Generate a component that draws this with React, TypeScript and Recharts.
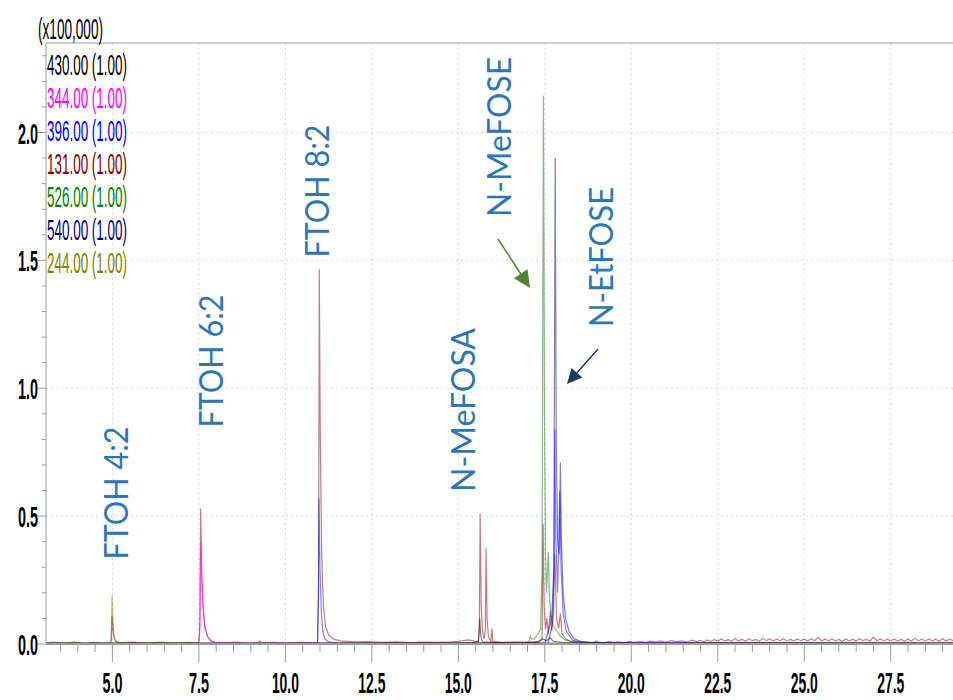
import React from 'react';
import { LineChart, Line, XAxis, YAxis, CartesianGrid, ReferenceLine } from 'recharts';

// retention time (min) / intensity (x100,000) pairs
const ion430 = [
  [3.08, 0.003], [6.0, 0.004], [9.0, 0.003], [12.0, 0.004], [15.4, 0.004], [15.58, 0.01], [15.61, 0.06],
  [15.62, 0.1], [15.65, 0.03], [15.7, 0.008], [16.5, 0.004], [17.3, 0.006], [17.45, 0.02], [17.55, 0.012],
  [17.65, 0.025], [17.75, 0.01], [18.0, 0.006], [20.0, 0.004], [24.0, 0.004], [29.3, 0.004],
];
const ion344 = [
  [3.08, 0.002], [7.5, 0.003], [7.53, 0.06], [7.55, 0.4], [7.58, 0.26], [7.62, 0.14], [7.67, 0.065],
  [7.75, 0.028], [7.85, 0.011], [8.0, 0.004], [12.0, 0.003], [17.4, 0.003], [20.0, 0.003], [29.3, 0.003],
];
const ion396 = [
  [3.08, 0.002], [10.93, 0.003], [10.95, 0.15], [10.97, 0.57], [11.0, 0.3], [11.04, 0.12], [11.08, 0.05],
  [11.14, 0.02], [11.25, 0.008], [11.5, 0.004], [17.6, 0.004], [17.72, 0.08], [17.77, 0.3], [17.79, 0.84],
  [17.82, 0.4], [17.87, 0.2], [17.93, 0.6], [17.97, 0.3], [18.03, 0.12], [18.12, 0.05], [18.3, 0.015],
  [18.6, 0.005], [29.3, 0.003],
];
const ion131 = [
  [3.08, 0.004], [3.3, 0.007], [3.6, 0.004], [3.9, 0.007], [4.2, 0.003], [4.5, 0.006], [4.7, 0.004],
  [4.95, 0.005], [4.97, 0.02], [4.99, 0.11], [5.02, 0.05], [5.06, 0.02], [5.12, 0.008], [5.25, 0.005],
  [5.6, 0.007], [6.0, 0.004], [6.4, 0.007], [6.8, 0.004], [7.2, 0.006], [7.5, 0.005], [7.53, 0.1],
  [7.55, 0.53], [7.58, 0.3], [7.62, 0.15], [7.67, 0.07], [7.75, 0.03], [7.85, 0.012], [8.0, 0.006],
  [8.3, 0.005], [8.6, 0.007], [8.9, 0.004], [9.2, 0.005], [9.25, 0.012], [9.3, 0.005], [9.7, 0.006],
  [10.0, 0.004], [10.4, 0.006], [10.93, 0.005], [10.96, 0.2], [10.98, 1.465], [11.01, 0.8], [11.05, 0.35],
  [11.1, 0.15], [11.16, 0.07], [11.25, 0.035], [11.4, 0.018], [11.6, 0.012], [11.8, 0.01], [12.0, 0.008],
  [12.4, 0.009], [12.8, 0.006], [13.2, 0.008], [13.6, 0.005], [14.0, 0.007], [14.4, 0.006], [14.8, 0.008],
  [15.0, 0.01], [15.15, 0.013], [15.3, 0.016], [15.45, 0.011], [15.58, 0.01], [15.61, 0.1], [15.63, 0.51],
  [15.66, 0.15], [15.7, 0.05], [15.74, 0.02], [15.78, 0.05], [15.8, 0.375], [15.83, 0.1], [15.87, 0.03],
  [15.94, 0.01], [15.97, 0.06], [16.0, 0.01], [16.2, 0.006], [16.6, 0.008], [17.0, 0.006], [17.3, 0.01],
  [17.42, 0.02], [17.45, 0.47], [17.48, 0.15], [17.52, 0.06], [17.56, 0.1], [17.6, 0.04], [17.66, 0.13],
  [17.7, 0.05], [17.75, 0.12], [17.79, 0.35], [17.84, 0.1], [17.9, 0.06], [17.95, 0.12], [18.0, 0.04],
  [18.1, 0.02], [18.25, 0.01], [18.5, 0.008], [18.8, 0.005], [19.0, 0.007], [19.2, 0.005], [19.35, 0.009],
  [19.5, 0.006], [19.65, 0.008], [19.8, 0.005], [19.95, 0.01], [20.1, 0.006], [20.25, 0.009], [20.4, 0.006],
  [20.55, 0.011], [20.7, 0.007], [20.85, 0.012], [21.0, 0.007], [21.15, 0.013], [21.3, 0.008], [21.45, 0.012],
  [21.6, 0.008], [21.75, 0.015], [21.9, 0.009], [22.0, 0.014], [22.1, 0.009], [22.2, 0.016], [22.3, 0.01],
  [22.4, 0.018], [22.5, 0.011], [22.6, 0.02], [22.7, 0.012], [22.8, 0.017], [22.9, 0.011], [23.0, 0.021],
  [23.1, 0.012], [23.2, 0.019], [23.3, 0.011], [23.4, 0.02], [23.5, 0.013], [23.6, 0.018], [23.7, 0.011],
  [23.8, 0.022], [23.9, 0.013], [24.0, 0.02], [24.1, 0.012], [24.2, 0.019], [24.3, 0.013], [24.4, 0.021],
  [24.5, 0.012], [24.6, 0.018], [24.7, 0.012], [24.8, 0.02], [24.9, 0.013], [25.0, 0.019], [25.1, 0.012],
  [25.2, 0.021], [25.3, 0.013], [25.4, 0.026], [25.5, 0.013], [25.6, 0.019], [25.7, 0.012], [25.8, 0.02],
  [25.9, 0.012], [26.0, 0.018], [26.1, 0.011], [26.2, 0.02], [26.3, 0.012], [26.4, 0.019], [26.5, 0.012],
  [26.6, 0.021], [26.7, 0.013], [26.8, 0.018], [26.9, 0.012], [27.0, 0.027], [27.1, 0.013], [27.2, 0.02],
  [27.3, 0.012], [27.4, 0.019], [27.5, 0.012], [27.6, 0.02], [27.7, 0.012], [27.8, 0.018], [27.9, 0.011],
  [28.0, 0.02], [28.1, 0.012], [28.2, 0.022], [28.3, 0.013], [28.4, 0.019], [28.5, 0.012], [28.6, 0.02],
  [28.7, 0.012], [28.8, 0.019], [28.9, 0.011], [29.0, 0.021], [29.1, 0.012], [29.2, 0.019], [29.3, 0.013],
];
const ion526 = [
  [3.08, 0.003], [10.0, 0.003], [16.9, 0.004], [17.05, 0.01], [17.08, 0.03], [17.12, 0.02], [17.2, 0.02],
  [17.3, 0.04], [17.38, 0.06], [17.42, 0.3], [17.46, 2.145], [17.49, 0.9], [17.52, 0.35], [17.55, 0.2],
  [17.6, 0.36], [17.63, 0.2], [17.68, 0.1], [17.75, 0.07], [17.85, 0.05], [17.95, 0.03], [18.1, 0.015],
  [18.3, 0.008], [18.95, 0.005], [19.0, 0.012], [19.05, 0.005], [29.3, 0.004],
];
const ion540 = [
  [3.08, 0.003], [12.0, 0.003], [17.5, 0.004], [17.6, 0.05], [17.7, 0.1], [17.76, 0.3], [17.8, 1.9],
  [17.83, 0.8], [17.87, 0.4], [17.92, 0.35], [17.95, 0.71], [17.98, 0.4], [18.03, 0.2], [18.1, 0.1],
  [18.2, 0.05], [18.35, 0.02], [18.6, 0.008], [19.0, 0.004], [29.3, 0.004],
];
const ion244 = [
  [3.08, 0.003], [4.9, 0.003], [4.96, 0.01], [4.99, 0.19], [5.01, 0.12], [5.04, 0.03], [5.08, 0.01],
  [5.2, 0.004], [29.3, 0.003],
];

const channelNames = ['430.00 (1.00)', '344.00 (1.00)', '396.00 (1.00)', '131.00 (1.00)', '526.00 (1.00)', '540.00 (1.00)', '244.00 (1.00)'];
const channelColors = ['#000000', '#ff00ff', '#0000ff', '#800000', '#008000', '#000080', '#808000'];

const xTicks = [
  3.5, 4.0, 4.5, 5.0, 5.5, 6.0, 6.5, 7.0, 7.5, 8.0, 8.5, 9.0, 9.5, 10.0, 10.5, 11.0, 11.5, 12.0, 12.5,
  13.0, 13.5, 14.0, 14.5, 15.0, 15.5, 16.0, 16.5, 17.0, 17.5, 18.0, 18.5, 19.0, 19.5, 20.0, 20.5, 21.0,
  21.5, 22.0, 22.5, 23.0, 23.5, 24.0, 24.5, 25.0, 25.5, 26.0, 26.5, 27.0, 27.5, 28.0, 28.5, 29.0,
];
const xMajor = [5.0, 7.5, 10.0, 12.5, 15.0, 17.5, 20.0, 22.5, 25.0, 27.5];
const yTicks = [
  0.0, 0.1, 0.2, 0.3, 0.4, 0.5, 0.6, 0.7, 0.8, 0.9, 1.0, 1.1, 1.2, 1.3, 1.4, 1.5, 1.6, 1.7, 1.8, 1.9,
  2.0, 2.1, 2.2, 2.3,
];
const yMajor = [0.0, 0.5, 1.0, 1.5, 2.0];

const peakLabels = ['FTOH 4:2', 'FTOH 6:2', 'FTOH 8:2', 'N-MeFOSA', 'N-MeFOSE', 'N-EtFOSE'];

const toPts = (rows: number[][]) => rows.map(([t, v]) => ({ t, v }));
const series = [
  { key: '131', data: toPts(ion131), color: channelColors[3] },
  { key: '526', data: toPts(ion526), color: channelColors[4] },
  { key: '540', data: toPts(ion540), color: channelColors[5] },
  { key: '396', data: toPts(ion396), color: channelColors[2] },
  { key: '244', data: toPts(ion244), color: channelColors[6] },
  { key: '430', data: toPts(ion430), color: channelColors[0] },
  { key: '344', data: toPts(ion344), color: channelColors[1] },
];

const W = 953;
const H = 700;
const AX_X = 46;
const AX_Y = 644;
const NARROW = '"Liberation Sans Narrow", "Liberation Sans", Arial, sans-serif';
const ANNOT = 'Lato, "Open Sans", sans-serif';
const AXIS_GRAY = '#9a9a9a';

const isMajor = (v: number, list: number[]) => list.some((m) => Math.abs(m - v) < 1e-6);

const YTick = (props: any) => {
  const { y, payload } = props;
  const v = payload.value;
  const major = isMajor(v, yMajor);
  return (
    <g>
      <line x1={AX_X - (major ? 8 : 4)} x2={AX_X} y1={y} y2={y} stroke={AXIS_GRAY} />
      {major && (
        <text x={38} y={y + 11} textAnchor="end" fontSize={30} fontWeight="bold" fontFamily={NARROW} fill="#000"
          textLength={20} lengthAdjust="spacingAndGlyphs">
          {v.toFixed(1)}
        </text>
      )}
    </g>
  );
};

const XTick = (props: any) => {
  const { x, payload } = props;
  const v = payload.value;
  const major = isMajor(v, xMajor);
  const label = v.toFixed(1);
  return (
    <g>
      <line x1={x} x2={x} y1={AX_Y} y2={AX_Y + (major ? 18 : 8)} stroke={AXIS_GRAY} />
      {major && (
        <text x={x} y={693} textAnchor="middle" fontSize={29} fontWeight="bold" fontFamily={NARROW} fill="#000"
          textLength={label.length > 3 ? 27 : 20} lengthAdjust="spacingAndGlyphs">
          {label}
        </text>
      )}
    </g>
  );
};

const Arrow = ({ x1, y1, x2, y2, color, head }: any) => {
  const dx = x2 - x1;
  const dy = y2 - y1;
  const len = Math.sqrt(dx * dx + dy * dy);
  const ux = dx / len;
  const uy = dy / len;
  const bx = x2 - ux * head;
  const by = y2 - uy * head;
  const hw = head * 0.48;
  const pts = `${x2},${y2} ${bx - uy * hw},${by + ux * hw} ${bx + uy * hw},${by - ux * hw}`;
  return (
    <g>
      <line x1={x1} y1={y1} x2={bx} y2={by} stroke={color} strokeWidth={1.5} />
      <polygon points={pts} fill={color} />
    </g>
  );
};

// vertical annotation: baseline x (right side of glyphs), centre y, text length
const annotPos = [
  [128, 493, 133], [223, 361, 133], [329, 191, 133], [475, 410, 164], [511, 137, 160], [613, 257, 140],
];

export default function App() {
  return (
    <div style={{ position: 'absolute', left: 0, top: 0, width: W, height: H, background: '#fff', overflow: 'hidden' }}>
      <LineChart width={W} height={H} margin={{ top: 43, right: 0, bottom: 0, left: 0 }}>
        <CartesianGrid
          stroke="#d6d6d6"
          strokeDasharray="2 3"
          horizontalValues={[0.5, 1.0, 1.5, 2.0]}
          verticalValues={xMajor}
        />
        <XAxis
          type="number"
          dataKey="t"
          domain={[3.08, 29.3]}
          allowDataOverflow
          ticks={xTicks}
          interval={0}
          height={56}
          tickSize={0}
          tickMargin={0}
          tickLine={false}
          axisLine={{ stroke: AXIS_GRAY, strokeWidth: 2 }}
          tick={<XTick />}
        />
        <YAxis
          type="number"
          domain={[0, 2.35]}
          allowDataOverflow
          ticks={yTicks}
          interval={0}
          width={46}
          tickSize={0}
          tickMargin={0}
          tickLine={false}
          axisLine={{ stroke: AXIS_GRAY }}
          tick={<YTick />}
        />
        <ReferenceLine y={2.35} stroke={AXIS_GRAY} />
        {series.map((s) => (
          <Line
            key={s.key}
            data={s.data}
            dataKey="v"
            type="linear"
            stroke={s.color}
            strokeOpacity={0.5}
            strokeWidth={1.2}
            dot={false}
            activeDot={false}
            isAnimationActive={false}
          />
        ))}
      </LineChart>
      <svg width={W} height={H} style={{ position: 'absolute', left: 0, top: 0, pointerEvents: 'none' }}>
        <text x={38} y={39} fontSize={30} fontFamily={NARROW} fill="#000" textLength={65} lengthAdjust="spacingAndGlyphs">
          (x100,000)
        </text>
        {channelNames.map((name, i) => (
          <text key={name} x={47} y={75 + 33 * i} fontSize={29} fontFamily={NARROW} fill={channelColors[i]}
            textLength={80} lengthAdjust="spacingAndGlyphs">
            {name}
          </text>
        ))}
        {peakLabels.map((label, i) => {
          const [bx, cy, len] = annotPos[i];
          return (
            <text key={label} transform={`translate(${bx},${cy}) rotate(-90)`} textAnchor="middle"
              fontSize={33} fontFamily={ANNOT} fill="#2E75B6" textLength={len} lengthAdjust="spacingAndGlyphs">
              {label}
            </text>
          );
        })}
        <Arrow x1={498} y1={239} x2={530} y2={288} color="#548235" head={17} />
        <Arrow x1={598} y1={349} x2={567} y2={384} color="#1F3864" head={15} />
      </svg>
    </div>
  );
}
